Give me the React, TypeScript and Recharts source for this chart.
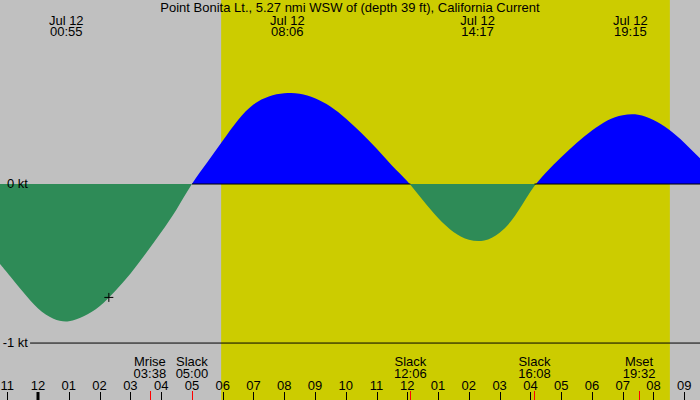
import React from 'react';
import {
  ComposedChart,
  Area,
  XAxis,
  YAxis,
  ReferenceArea,
  ReferenceLine,
  ReferenceDot,
} from 'recharts';

// ---- data ----
const title = 'Point Bonita Lt., 5.27 nmi WSW of (depth 39 ft), California Current';
const dateLabel = 'Jul 12';

// hours after midnight Jul 12 (negative = Jul 11)
const hours = [
  -1.237, -1, -0.5, 0, 0.5, 1, 1.5, 2, 2.5, 3, 3.5, 4, 4.5, 5,
  5.5, 6, 6.5, 7, 7.5, 8, 8.5, 9, 9.5, 10, 10.5, 11, 11.5, 12,
  12.5, 13, 13.5, 14, 14.5, 15, 15.5, 16,
  16.5, 17, 17.5, 18, 18.5, 19, 19.5, 20, 20.5, 21, 21.512,
];
// current speed, knots
const knots = [
  -0.503, -0.558, -0.676, -0.783, -0.847, -0.863, -0.83, -0.769, -0.674, -0.564, -0.437, -0.304, -0.16, 0,
  0.137, 0.272, 0.403, 0.5, 0.551, 0.57, 0.568, 0.539, 0.487, 0.412, 0.322, 0.223, 0.117, 0.017,
  -0.101, -0.214, -0.301, -0.35, -0.355, -0.306, -0.2, -0.048,
  0.071, 0.168, 0.258, 0.336, 0.4, 0.433, 0.436, 0.402, 0.343, 0.26, 0.162,
];

const hourTicks = [-1, 0, 1, 2, 3, 4, 5, 6, 7, 8, 9, 10, 11, 12, 13, 14, 15, 16, 17, 18, 19, 20, 21];
const hourLabels = ['11', '12', '01', '02', '03', '04', '05', '06', '07', '08', '09', '10', '11', '12', '01', '02', '03', '04', '05', '06', '07', '08', '09'];

const extremeTimes = ['00:55', '08:06', '14:17', '19:15'];
const eventNames = ['Mrise', 'Slack', 'Slack', 'Slack', 'Mset'];
const eventTimes = ['03:38', '05:00', '12:06', '16:08', '19:32'];

const sunrise = '05:57';
const sunset = '20:32';
const nowTime = '02:18';
const nowValue = -0.713;

const levelValues = [0, -1];
const levelLabels = ['0 kt', '-1 kt'];
const minusOneLineStart = -0.26;

const xDomain: [number, number] = [-1.237, 21.512];
const yDomain: [number, number] = [-1.358, 1.157];

// ---- style ----
const W = 700;
const H = 400;
const FONT = '"Liberation Sans", Arial, sans-serif';
const FS = 13;
const GRAY = '#c0c0c0';
const YELLOW = '#cccc00';
const GREEN = '#2e8b57';
const BLUE = '#0000ff';

const toH = (s: string) => {
  const [hh, mm] = s.split(':').map(Number);
  return hh + mm / 60;
};

const data = hours.map((h, i) => ({ h, v: knots[i] }));
const zeroFrac = yDomain[1] / (yDomain[1] - yDomain[0]);
const slackHours = eventTimes.filter((_, i) => eventNames[i] === 'Slack').map(toH);

const txt = (x: number, y: number, s: string, anchor: string = 'middle') => (
  <text x={x} y={y} textAnchor={anchor as any} fontFamily={FONT} fontSize={FS} fill="#000">
    {s}
  </text>
);

const hourShape = (label: string, midnight: boolean) => (p: any) => (
  <g>
    {txt(p.cx, p.cy - 10, label)}
    <line
      x1={Math.round(p.cx) + (midnight ? 0 : 0.5)}
      x2={Math.round(p.cx) + (midnight ? 0 : 0.5)}
      y1={p.cy - 8}
      y2={p.cy}
      stroke="#000"
      strokeWidth={midnight ? 3 : 1}
    />
  </g>
);

const eventShape = (name: string, time: string) => (p: any) => (
  <g>
    <line
      x1={Math.round(p.cx) + 0.5}
      x2={Math.round(p.cx) + 0.5}
      y1={p.cy - 9}
      y2={p.cy}
      stroke="#ff0000"
      strokeWidth={1}
    />
    {txt(p.cx, p.cy - 34, name)}
    {txt(p.cx, p.cy - 22, time)}
  </g>
);

const extremeShape = (time: string) => (p: any) => (
  <g>
    {txt(p.cx, p.cy + 25, dateLabel)}
    {txt(p.cx, p.cy + 36, time)}
  </g>
);

const titleShape = (p: any) => txt(p.cx, p.cy + 12, title);

const levelShape = (label: string) => (p: any) => txt(p.cx + 28, p.cy + 4, label, 'end');

const plusShape = (p: any) => (
  <g stroke="#000" strokeWidth={1}>
    <line x1={p.cx - 4.5} x2={p.cx + 4.5} y1={p.cy} y2={p.cy} />
    <line x1={p.cx} x2={p.cx} y1={p.cy - 4.5} y2={p.cy + 4.5} />
  </g>
);

export default function App() {
  return (
    <div style={{ position: 'absolute', left: 0, top: 0, width: W, height: H, background: GRAY }}>
      <ComposedChart width={W} height={H} data={data} margin={{ top: 0, right: 0, bottom: 0, left: 0 }}>
        <defs>
          <linearGradient id="tideFill" gradientUnits="userSpaceOnUse" x1={0} y1={0} x2={0} y2={H}>
            <stop offset={0} stopColor={BLUE} />
            <stop offset={zeroFrac} stopColor={BLUE} />
            <stop offset={zeroFrac} stopColor={GREEN} />
            <stop offset={1} stopColor={GREEN} />
          </linearGradient>
        </defs>
        <XAxis dataKey="h" type="number" domain={xDomain} allowDataOverflow hide height={0} />
        <YAxis type="number" domain={yDomain} allowDataOverflow hide width={0} />
        <ReferenceArea
          x1={toH(sunrise)}
          x2={toH(sunset)}
          y1={yDomain[0]}
          y2={yDomain[1]}
          fill={YELLOW}
          fillOpacity={1}
          stroke="none"
        />
        <Area
          dataKey="v"
          type="natural"
          stroke="none"
          fill="url(#tideFill)"
          fillOpacity={1}
          baseValue={0}
          isAnimationActive={false}
          dot={false}
          activeDot={false}
        />
        <ReferenceLine
          segment={[{ x: slackHours[0], y: 0 }, { x: slackHours[1], y: 0 }]}
          stroke="#000"
          strokeWidth={1}
        />
        <ReferenceLine
          segment={[{ x: slackHours[2], y: 0 }, { x: xDomain[1], y: 0 }]}
          stroke="#000"
          strokeWidth={1}
        />
        <ReferenceLine
          segment={[{ x: minusOneLineStart, y: -1 }, { x: xDomain[1], y: -1 }]}
          stroke="#000"
          strokeWidth={1}
        />
        {levelValues.map((lv, i) => (
          <ReferenceDot key={'lv' + i} x={xDomain[0]} y={lv} shape={levelShape(levelLabels[i])} />
        ))}
        {extremeTimes.map((t, i) => (
          <ReferenceDot key={'ex' + i} x={toH(t)} y={yDomain[1]} shape={extremeShape(t)} />
        ))}
        {hourTicks.map((h, i) => (
          <ReferenceDot key={'hr' + i} x={h} y={yDomain[0]} shape={hourShape(hourLabels[i], h === 0)} />
        ))}
        {eventTimes.map((t, i) => (
          <ReferenceDot key={'ev' + i} x={toH(t)} y={yDomain[0]} shape={eventShape(eventNames[i], t)} />
        ))}
        <ReferenceDot x={toH(nowTime)} y={nowValue} shape={plusShape} />
        <ReferenceDot x={(xDomain[0] + xDomain[1]) / 2} y={yDomain[1]} shape={titleShape} />
      </ComposedChart>
    </div>
  );
}
